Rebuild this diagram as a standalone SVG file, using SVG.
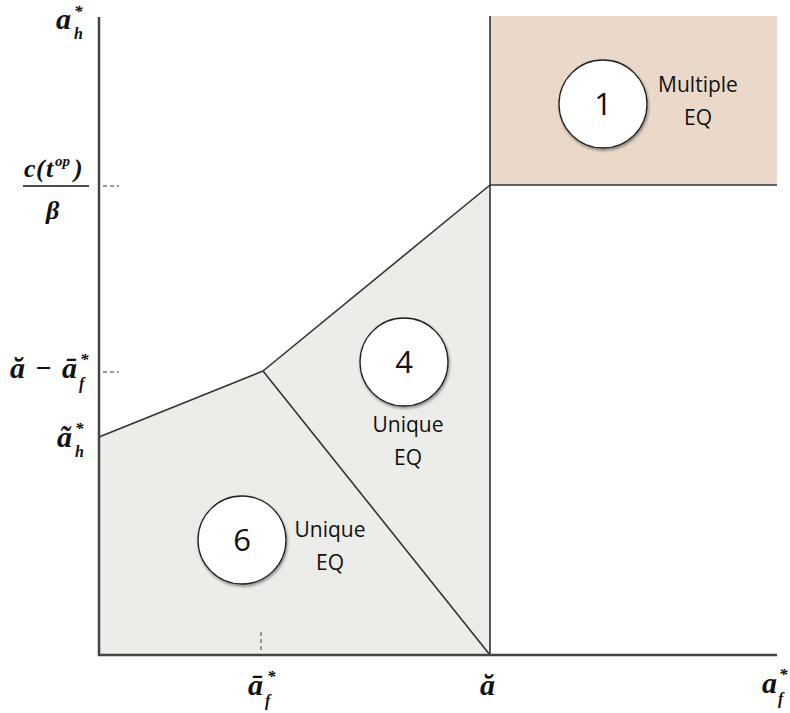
<svg xmlns="http://www.w3.org/2000/svg" width="790" height="713" viewBox="0 0 790 713">
<defs>
<filter id="sh" x="-20%" y="-20%" width="150%" height="150%">
<feGaussianBlur in="SourceAlpha" stdDeviation="1.5"/>
<feOffset dx="1" dy="2" result="b"/>
<feComponentTransfer><feFuncA type="linear" slope="0.4"/></feComponentTransfer>
<feMerge><feMergeNode/><feMergeNode in="SourceGraphic"/></feMerge>
</filter>
</defs>
<style>
.m{font-family:"Liberation Serif","DejaVu Serif",serif;font-style:italic;font-weight:bold;fill:#111}
.lbl{font-family:"Open Sans","Lato",sans-serif;font-size:21px;fill:#111;text-anchor:middle}
.num{font-family:"Open Sans","Lato",sans-serif;font-size:31px;fill:#111;text-anchor:middle}
.c{fill:#fff;stroke:#222;stroke-width:1.3}
.ln{stroke:#333;stroke-width:1.6;fill:none}
.dash{stroke:#777;stroke-width:1.5;stroke-dasharray:4,3;fill:none}
</style>
<rect width="790" height="713" fill="#fff"/>
<g id="region1">
<rect x="490" y="16" width="287" height="169" fill="#ead9c8"/>
</g>
<g id="regionGray">
<polygon points="99,437 263,371 490,185 490,655 99,655" fill="#ecece8"/>
</g>
<g id="connectors">
<line class="ln" x1="99" y1="437" x2="263" y2="371"/>
<line class="ln" x1="263" y1="371" x2="490" y2="185"/>
<line class="ln" x1="263" y1="371" x2="490" y2="655"/>
<line class="ln" x1="490" y1="16" x2="490" y2="655"/>
<line class="ln" x1="490" y1="185" x2="777" y2="185"/>
<line class="dash" x1="103" y1="186" x2="119" y2="186"/>
<line class="dash" x1="103" y1="372" x2="119" y2="372"/>
<line class="dash" x1="261" y1="632" x2="261" y2="652"/>
<line stroke="#444" stroke-width="2.5" x1="99" y1="17" x2="99" y2="656"/>
<line stroke="#444" stroke-width="2.5" x1="98" y1="655" x2="777" y2="655"/>
</g>
<g id="node1">
<circle class="c" cx="603" cy="104" r="44" filter="url(#sh)"/>
<text class="num" x="603" y="115">1</text>
<text class="lbl" x="698" y="92">Multiple</text>
<text class="lbl" x="698" y="125">EQ</text>
</g>
<g id="node4">
<circle class="c" cx="404" cy="362" r="44" filter="url(#sh)"/>
<text class="num" x="404" y="373">4</text>
<text class="lbl" x="408" y="432">Unique</text>
<text class="lbl" x="408" y="465">EQ</text>
</g>
<g id="node6">
<circle class="c" cx="242" cy="540" r="44" filter="url(#sh)"/>
<text class="num" x="242" y="551">6</text>
<text class="lbl" x="330" y="537">Unique</text>
<text class="lbl" x="330" y="570">EQ</text>
</g>
<g id="labels">
<text class="m" x="56" y="29" font-size="30">a</text>
<text class="m" x="74" y="17" font-size="17">*</text>
<text class="m" x="74" y="39" font-size="16">h</text>
<text class="m" x="24" y="177" font-size="26">c</text>
<text class="m" x="36" y="177" font-size="26" font-style="normal" font-weight="normal">(</text>
<text class="m" x="46" y="177" font-size="26">t</text>
<text class="m" x="55" y="166" font-size="15">op</text>
<text class="m" x="74" y="177" font-size="26" font-style="normal" font-weight="normal">)</text>
<line x1="23" y1="186" x2="89" y2="186" stroke="#111" stroke-width="1.5"/>
<text class="m" x="46" y="219" font-size="26">β</text>
<text class="m" x="10" y="378" font-size="30">ă</text>
<text class="m" x="35" y="377" font-size="28" font-style="normal">−</text>
<text class="m" x="62" y="378" font-size="30">ā</text>
<text class="m" x="80" y="365" font-size="17">*</text>
<text class="m" x="79" y="389" font-size="16">f</text>
<text class="m" x="57" y="447" font-size="30">ã</text>
<text class="m" x="75" y="434" font-size="17">*</text>
<text class="m" x="75" y="457" font-size="16">h</text>
<text class="m" x="248" y="695" font-size="30">ā</text>
<text class="m" x="267" y="682" font-size="17">*</text>
<text class="m" x="265" y="706" font-size="16">f</text>
<text class="m" x="480" y="695" font-size="30">ă</text>
<text class="m" x="762" y="693" font-size="30">a</text>
<text class="m" x="779" y="680" font-size="17">*</text>
<text class="m" x="778" y="704" font-size="16">f</text>
</g>
</svg>
